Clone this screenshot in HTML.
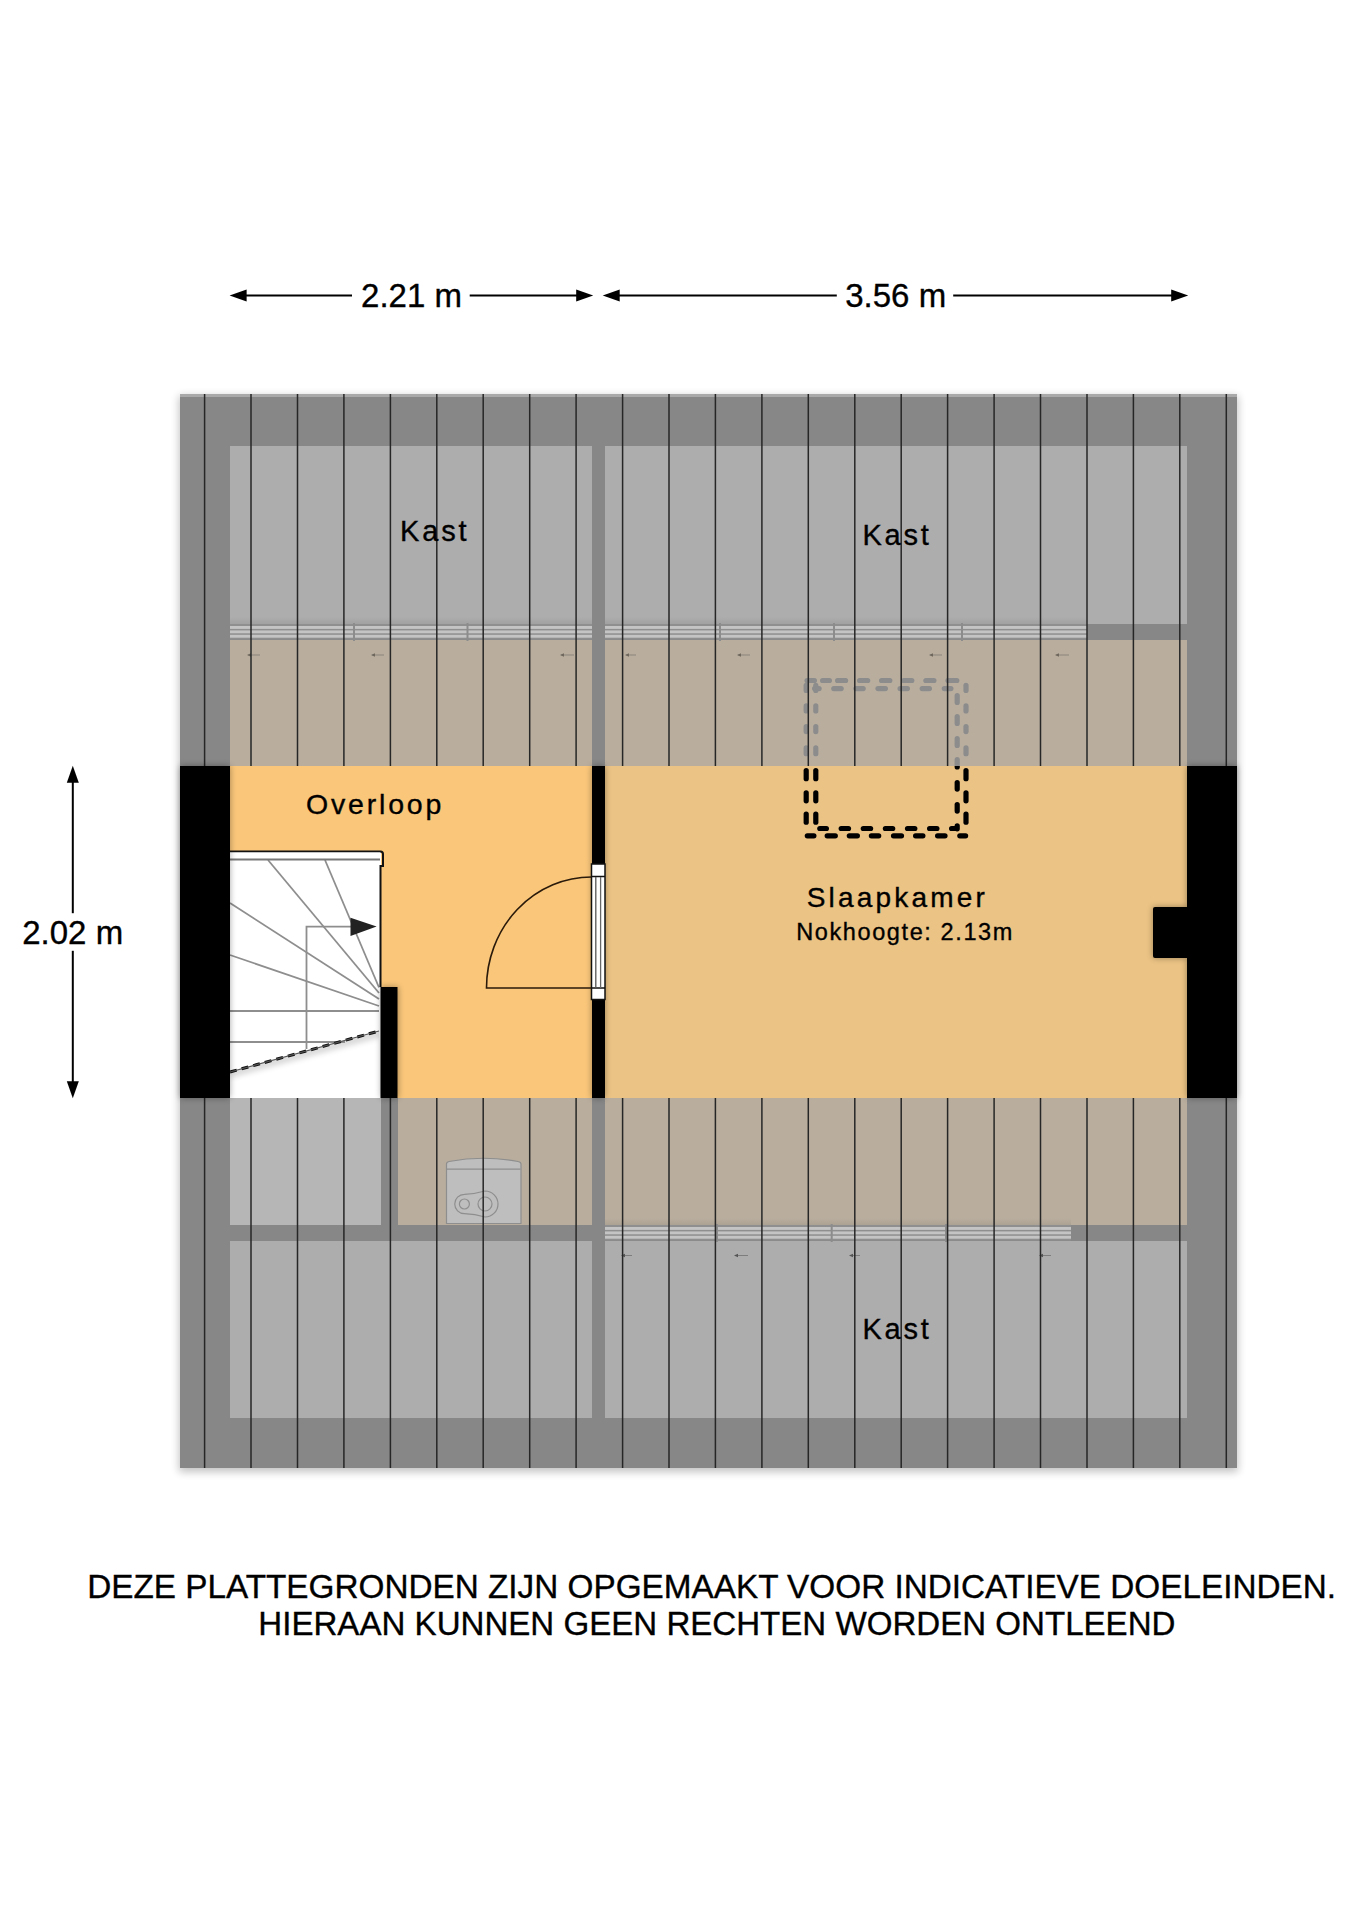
<!DOCTYPE html>
<html><head><meta charset="utf-8"><title>Plattegrond</title><style>
html,body{margin:0;padding:0;background:#fff;width:1358px;height:1920px;overflow:hidden}
svg{display:block;position:absolute;left:0;top:0}
text{font-family:"Liberation Sans",sans-serif;fill:#000;stroke:#000;stroke-width:0.35px}
</style></head><body>
<svg width="1358" height="1920" viewBox="0 0 1358 1920">
<defs>
<filter id="sh" x="-20%" y="-20%" width="140%" height="140%"><feGaussianBlur stdDeviation="4"/></filter>
<filter id="ws" x="-50%" y="-50%" width="200%" height="200%"><feGaussianBlur stdDeviation="3"/></filter>
<filter id="bl" x="-50%" y="-50%" width="200%" height="200%"><feGaussianBlur stdDeviation="0.6"/></filter>
<clipPath id="abv"><rect x="0" y="0" width="1358" height="766"/></clipPath>
<clipPath id="stclip"><polygon points="230,1072 379,1031 381,1098 230,1098"/></clipPath>
<clipPath id="blw"><rect x="0" y="766" width="1358" height="400"/></clipPath>
<linearGradient id="rsh" x1="0" y1="0" x2="0" y2="1"><stop offset="0" stop-color="#000" stop-opacity="0"/><stop offset="1" stop-color="#000" stop-opacity="0.07"/></linearGradient>
<linearGradient id="stsh" x1="0" y1="0" x2="0" y2="1"><stop offset="0" stop-color="#cfcfcf"/><stop offset="0.5" stop-color="#f4f4f4"/><stop offset="1" stop-color="#fff"/></linearGradient>
</defs>

<polygon points="229.6,295.5 246.6,289.5 246.6,301.5" fill="#000"/>
<line x1="245.6" y1="295.5" x2="352" y2="295.5" stroke="#000" stroke-width="2"/>
<line x1="469.7" y1="295.5" x2="577.2" y2="295.5" stroke="#000" stroke-width="2"/>
<polygon points="593.2,295.5 576.2,289.5 576.2,301.5" fill="#000"/>
<polygon points="602.7,295.5 619.7,289.5 619.7,301.5" fill="#000"/>
<line x1="618.7" y1="295.5" x2="836.8" y2="295.5" stroke="#000" stroke-width="2"/>
<line x1="953.2" y1="295.5" x2="1172.2" y2="295.5" stroke="#000" stroke-width="2"/>
<polygon points="1188.2,295.5 1171.2,289.5 1171.2,301.5" fill="#000"/>
<polygon points="72.8,765.7 66.8,782.7 78.8,782.7" fill="#000"/>
<line x1="72.8" y1="781" x2="72.8" y2="913.2" stroke="#000" stroke-width="2"/>
<line x1="72.8" y1="950.8" x2="72.8" y2="1083" stroke="#000" stroke-width="2"/>
<polygon points="72.8,1098.2 66.8,1081.2 78.8,1081.2" fill="#000"/>
<text x="411.5" y="307.3" font-size="33" text-anchor="middle">2.21 m</text>
<text x="895.7" y="307.4" font-size="33" text-anchor="middle">3.56 m</text>
<text x="72.7" y="943.8" font-size="33" text-anchor="middle">2.02 m</text>
<rect x="179" y="396" width="1059" height="1076" fill="#000" opacity="0.24" filter="url(#sh)"/>
<rect x="180" y="394" width="1057" height="1074" fill="#878787"/>
<rect x="180" y="394" width="1057" height="3" fill="#a9a9a9"/>
<rect x="230" y="446" width="362" height="178" fill="#adadad"/>
<rect x="605" y="446" width="582" height="178" fill="#adadad"/>
<rect x="230" y="1241" width="362" height="177" fill="#adadad"/>
<rect x="605" y="1241" width="582" height="177" fill="#adadad"/>
<rect x="230" y="640" width="362" height="126" fill="#b9ae9e"/>
<rect x="605" y="640" width="582" height="126" fill="#b9ae9e"/>
<rect x="398" y="1098" width="194" height="127" fill="#b9ae9e"/>
<rect x="605" y="1098" width="582" height="127" fill="#b9ae9e"/>
<rect x="230" y="1098" width="151" height="127" fill="#b6b6b6"/>
<rect x="230" y="617" width="362" height="7" fill="url(#rsh)"/>
<rect x="230" y="624" width="362" height="15.5" fill="#8f8f8f"/>
<rect x="230" y="626.0" width="362" height="2.9" fill="#c4c4c4"/>
<rect x="230" y="630.4" width="362" height="2.9" fill="#c4c4c4"/>
<rect x="230" y="634.8" width="362" height="2.9" fill="#c4c4c4"/>
<rect x="605" y="617" width="482" height="7" fill="url(#rsh)"/>
<rect x="605" y="624" width="482" height="15.5" fill="#8f8f8f"/>
<rect x="605" y="626.0" width="482" height="2.9" fill="#c4c4c4"/>
<rect x="605" y="630.4" width="482" height="2.9" fill="#c4c4c4"/>
<rect x="605" y="634.8" width="482" height="2.9" fill="#c4c4c4"/>
<rect x="605" y="1218" width="466" height="7" fill="url(#rsh)"/>
<rect x="605" y="1225" width="466" height="15.5" fill="#8f8f8f"/>
<rect x="605" y="1227.0" width="466" height="2.9" fill="#c4c4c4"/>
<rect x="605" y="1231.4" width="466" height="2.9" fill="#c4c4c4"/>
<rect x="605" y="1235.8" width="466" height="2.9" fill="#c4c4c4"/>
<rect x="353" y="623" width="2" height="18" fill="#8c8c8c"/>
<rect x="466.5" y="623" width="2" height="18" fill="#8c8c8c"/>
<rect x="719" y="623" width="2" height="18" fill="#8c8c8c"/>
<rect x="833" y="623" width="2" height="18" fill="#8c8c8c"/>
<rect x="961" y="623" width="2" height="18" fill="#8c8c8c"/>
<rect x="716" y="1224" width="2" height="18" fill="#8c8c8c"/>
<rect x="830.7" y="1224" width="2" height="18" fill="#8c8c8c"/>
<rect x="945" y="1224" width="2" height="18" fill="#8c8c8c"/>
<line x1="248" y1="655" x2="260" y2="655" stroke="#8a8378" stroke-width="1"/><polygon points="247,655 251,653.3 251,656.7" fill="#6f685e"/>
<line x1="372" y1="655" x2="384" y2="655" stroke="#8a8378" stroke-width="1"/><polygon points="371,655 375,653.3 375,656.7" fill="#6f685e"/>
<line x1="561" y1="655" x2="574" y2="655" stroke="#8a8378" stroke-width="1"/><polygon points="560,655 564,653.3 564,656.7" fill="#6f685e"/>
<line x1="626" y1="655" x2="636" y2="655" stroke="#8a8378" stroke-width="1"/><polygon points="625,655 629,653.3 629,656.7" fill="#6f685e"/>
<line x1="738" y1="655" x2="750" y2="655" stroke="#8a8378" stroke-width="1"/><polygon points="737,655 741,653.3 741,656.7" fill="#6f685e"/>
<line x1="930" y1="655" x2="942" y2="655" stroke="#8a8378" stroke-width="1"/><polygon points="929,655 933,653.3 933,656.7" fill="#6f685e"/>
<line x1="1056" y1="655" x2="1069" y2="655" stroke="#8a8378" stroke-width="1"/><polygon points="1055,655 1059,653.3 1059,656.7" fill="#6f685e"/>
<line x1="622" y1="1255.5" x2="632" y2="1255.5" stroke="#7d7d7d" stroke-width="1"/><polygon points="621,1255.5 625,1253.8 625,1257.2" fill="#555"/>
<line x1="735" y1="1255.5" x2="748" y2="1255.5" stroke="#7d7d7d" stroke-width="1"/><polygon points="734,1255.5 738,1253.8 738,1257.2" fill="#555"/>
<line x1="850" y1="1255.5" x2="860" y2="1255.5" stroke="#7d7d7d" stroke-width="1"/><polygon points="849,1255.5 853,1253.8 853,1257.2" fill="#555"/>
<line x1="1040" y1="1255.5" x2="1051" y2="1255.5" stroke="#7d7d7d" stroke-width="1"/><polygon points="1039,1255.5 1043,1253.8 1043,1257.2" fill="#555"/>
<g clip-path="url(#abv)" stroke="#8c8c8c" stroke-width="5.2" stroke-linecap="round" fill="none" filter="url(#bl)"><line x1="807.3" y1="835.8" x2="813.9" y2="835.8"/><line x1="827.2" y1="835.8" x2="835.3" y2="835.8"/><line x1="849.3" y1="835.8" x2="857.4" y2="835.8"/><line x1="871.4" y1="835.8" x2="878.7" y2="835.8"/><line x1="893.5" y1="835.8" x2="901.5" y2="835.8"/><line x1="915.6" y1="835.8" x2="922.9" y2="835.8"/><line x1="937.6" y1="835.8" x2="945.0" y2="835.8"/><line x1="959.8" y1="835.8" x2="965.6" y2="835.8"/><line x1="819.8" y1="828.5" x2="826.4" y2="828.5"/><line x1="841.2" y1="828.5" x2="848.5" y2="828.5"/><line x1="863.3" y1="828.5" x2="870.6" y2="828.5"/><line x1="885.4" y1="828.5" x2="892.7" y2="828.5"/><line x1="907.5" y1="828.5" x2="914.8" y2="828.5"/><line x1="929.6" y1="828.5" x2="936.9" y2="828.5"/><line x1="951.6" y1="828.5" x2="955.3" y2="828.5"/><line x1="807.1" y1="680.5" x2="814.4" y2="680.5"/><line x1="822.6" y1="680.5" x2="829.4" y2="680.5"/><line x1="837.6" y1="680.5" x2="845.6" y2="680.5"/><line x1="859.6" y1="680.5" x2="867.7" y2="680.5"/><line x1="881.6" y1="680.5" x2="889.8" y2="680.5"/><line x1="903.8" y1="680.5" x2="911.8" y2="680.5"/><line x1="925.9" y1="680.5" x2="933.9" y2="680.5"/><line x1="948.0" y1="680.5" x2="956.8" y2="680.5"/><line x1="814.6" y1="688.6" x2="819.1" y2="688.6"/><line x1="833.8" y1="688.6" x2="841.2" y2="688.6"/><line x1="855.9" y1="688.6" x2="863.2" y2="688.6"/><line x1="878.0" y1="688.6" x2="885.4" y2="688.6"/><line x1="900.1" y1="688.6" x2="907.4" y2="688.6"/><line x1="922.2" y1="688.6" x2="929.4" y2="688.6"/><line x1="944.3" y1="688.6" x2="950.9" y2="688.6"/><line x1="806.2" y1="685.3" x2="806.2" y2="690.4"/><line x1="806.2" y1="705.9" x2="806.2" y2="711.0"/><line x1="806.2" y1="726.5" x2="806.2" y2="731.6"/><line x1="806.2" y1="747.9" x2="806.2" y2="753.7"/><line x1="806.2" y1="770.6" x2="806.2" y2="778.7"/><line x1="806.2" y1="792.8" x2="806.2" y2="800.8"/><line x1="806.2" y1="814.1" x2="806.2" y2="822.2"/><line x1="815.8" y1="685.3" x2="815.8" y2="690.4"/><line x1="815.8" y1="705.9" x2="815.8" y2="711.0"/><line x1="815.8" y1="726.5" x2="815.8" y2="731.6"/><line x1="815.8" y1="747.9" x2="815.8" y2="753.7"/><line x1="815.8" y1="770.6" x2="815.8" y2="778.7"/><line x1="815.8" y1="792.8" x2="815.8" y2="800.8"/><line x1="815.8" y1="814.1" x2="815.8" y2="822.2"/><line x1="966.0" y1="685.3" x2="966.0" y2="690.4"/><line x1="966.0" y1="705.9" x2="966.0" y2="711.0"/><line x1="966.0" y1="726.5" x2="966.0" y2="731.6"/><line x1="966.0" y1="747.9" x2="966.0" y2="753.7"/><line x1="966.0" y1="770.6" x2="966.0" y2="778.7"/><line x1="966.0" y1="792.8" x2="966.0" y2="800.8"/><line x1="966.0" y1="814.1" x2="966.0" y2="822.2"/><line x1="957.2" y1="695.6" x2="957.2" y2="702.4"/><line x1="957.2" y1="716.6" x2="957.2" y2="723.4"/><line x1="957.2" y1="738.6" x2="957.2" y2="745.4"/><line x1="957.2" y1="759.6" x2="957.2" y2="767.0"/><line x1="957.2" y1="782.5" x2="957.2" y2="789.1"/><line x1="957.2" y1="804.6" x2="957.2" y2="811.1"/><line x1="957.2" y1="825.9" x2="957.2" y2="828.8"/></g>
<g stroke="#8e8e8e" stroke-width="1.2" fill="none">
<path d="M446.5,1223.5 V1164 Q446.5,1162 449,1161.5 Q483,1155 518,1161.5 Q521,1162 521,1164 V1223.5 Z" fill="#bebebe"/>
<line x1="447" y1="1169.2" x2="520.5" y2="1169.2"/>
<circle cx="464.4" cy="1204" r="5"/><circle cx="485" cy="1204" r="7"/>
<path d="M485,1191 A13,13 0 1 1 485,1217 Q475,1214 464.4,1213.7 A9.7,9.7 0 0 1 464.4,1194.3 Q475,1194 485,1191 Z"/>
</g>
<line x1="204.6" y1="394" x2="204.6" y2="766" stroke="#262626" stroke-width="1.5"/>
<line x1="204.6" y1="1098" x2="204.6" y2="1468" stroke="#262626" stroke-width="1.5"/>
<line x1="251.0" y1="394" x2="251.0" y2="766" stroke="#262626" stroke-width="1.5"/>
<line x1="251.0" y1="1098" x2="251.0" y2="1468" stroke="#262626" stroke-width="1.5"/>
<line x1="297.5" y1="394" x2="297.5" y2="766" stroke="#262626" stroke-width="1.5"/>
<line x1="297.5" y1="1098" x2="297.5" y2="1468" stroke="#262626" stroke-width="1.5"/>
<line x1="343.9" y1="394" x2="343.9" y2="766" stroke="#262626" stroke-width="1.5"/>
<line x1="343.9" y1="1098" x2="343.9" y2="1468" stroke="#262626" stroke-width="1.5"/>
<line x1="390.4" y1="394" x2="390.4" y2="766" stroke="#262626" stroke-width="1.5"/>
<line x1="390.4" y1="1098" x2="390.4" y2="1468" stroke="#262626" stroke-width="1.5"/>
<line x1="436.8" y1="394" x2="436.8" y2="766" stroke="#262626" stroke-width="1.5"/>
<line x1="436.8" y1="1098" x2="436.8" y2="1468" stroke="#262626" stroke-width="1.5"/>
<line x1="483.2" y1="394" x2="483.2" y2="766" stroke="#262626" stroke-width="1.5"/>
<line x1="483.2" y1="1098" x2="483.2" y2="1468" stroke="#262626" stroke-width="1.5"/>
<line x1="529.7" y1="394" x2="529.7" y2="766" stroke="#262626" stroke-width="1.5"/>
<line x1="529.7" y1="1098" x2="529.7" y2="1468" stroke="#262626" stroke-width="1.5"/>
<line x1="576.1" y1="394" x2="576.1" y2="766" stroke="#262626" stroke-width="1.5"/>
<line x1="576.1" y1="1098" x2="576.1" y2="1468" stroke="#262626" stroke-width="1.5"/>
<line x1="622.6" y1="394" x2="622.6" y2="766" stroke="#262626" stroke-width="1.5"/>
<line x1="622.6" y1="1098" x2="622.6" y2="1468" stroke="#262626" stroke-width="1.5"/>
<line x1="669.0" y1="394" x2="669.0" y2="766" stroke="#262626" stroke-width="1.5"/>
<line x1="669.0" y1="1098" x2="669.0" y2="1468" stroke="#262626" stroke-width="1.5"/>
<line x1="715.4" y1="394" x2="715.4" y2="766" stroke="#262626" stroke-width="1.5"/>
<line x1="715.4" y1="1098" x2="715.4" y2="1468" stroke="#262626" stroke-width="1.5"/>
<line x1="761.9" y1="394" x2="761.9" y2="766" stroke="#262626" stroke-width="1.5"/>
<line x1="761.9" y1="1098" x2="761.9" y2="1468" stroke="#262626" stroke-width="1.5"/>
<line x1="808.3" y1="394" x2="808.3" y2="766" stroke="#262626" stroke-width="1.5"/>
<line x1="808.3" y1="1098" x2="808.3" y2="1468" stroke="#262626" stroke-width="1.5"/>
<line x1="854.8" y1="394" x2="854.8" y2="766" stroke="#262626" stroke-width="1.5"/>
<line x1="854.8" y1="1098" x2="854.8" y2="1468" stroke="#262626" stroke-width="1.5"/>
<line x1="901.2" y1="394" x2="901.2" y2="766" stroke="#262626" stroke-width="1.5"/>
<line x1="901.2" y1="1098" x2="901.2" y2="1468" stroke="#262626" stroke-width="1.5"/>
<line x1="947.6" y1="394" x2="947.6" y2="766" stroke="#262626" stroke-width="1.5"/>
<line x1="947.6" y1="1098" x2="947.6" y2="1468" stroke="#262626" stroke-width="1.5"/>
<line x1="994.1" y1="394" x2="994.1" y2="766" stroke="#262626" stroke-width="1.5"/>
<line x1="994.1" y1="1098" x2="994.1" y2="1468" stroke="#262626" stroke-width="1.5"/>
<line x1="1040.5" y1="394" x2="1040.5" y2="766" stroke="#262626" stroke-width="1.5"/>
<line x1="1040.5" y1="1098" x2="1040.5" y2="1468" stroke="#262626" stroke-width="1.5"/>
<line x1="1087.0" y1="394" x2="1087.0" y2="766" stroke="#262626" stroke-width="1.5"/>
<line x1="1087.0" y1="1098" x2="1087.0" y2="1468" stroke="#262626" stroke-width="1.5"/>
<line x1="1133.4" y1="394" x2="1133.4" y2="766" stroke="#262626" stroke-width="1.5"/>
<line x1="1133.4" y1="1098" x2="1133.4" y2="1468" stroke="#262626" stroke-width="1.5"/>
<line x1="1179.8" y1="394" x2="1179.8" y2="766" stroke="#262626" stroke-width="1.5"/>
<line x1="1179.8" y1="1098" x2="1179.8" y2="1468" stroke="#262626" stroke-width="1.5"/>
<line x1="1226.3" y1="394" x2="1226.3" y2="766" stroke="#262626" stroke-width="1.5"/>
<line x1="1226.3" y1="1098" x2="1226.3" y2="1468" stroke="#262626" stroke-width="1.5"/>
<rect x="230" y="766" width="362" height="332" fill="#f9c67a"/>
<rect x="605" y="766" width="582" height="332" fill="#ebc385"/>
<rect x="230" y="852" width="151" height="246" fill="#fff"/>
<g clip-path="url(#stclip)"><line x1="230" y1="1074" x2="381" y2="1033" stroke="#000" stroke-width="6" opacity="0.2" filter="url(#ws)"/></g>
<g stroke="#8e8e8e" stroke-width="1.8" fill="none">
<line x1="268" y1="860" x2="379" y2="993"/>
<line x1="230" y1="903" x2="379" y2="999"/>
<line x1="230" y1="955" x2="379" y2="1006"/>
<line x1="325" y1="860" x2="379" y2="987.5"/>
<line x1="230" y1="1011" x2="379" y2="1011"/>
<line x1="230" y1="1042" x2="345" y2="1042"/>
<polyline points="306.5,1049 306.5,926.6 352,926.6"/>
</g>
<polygon points="350.5,917.7 376.6,926.6 350.5,935.9" fill="#222"/>
<line x1="230" y1="1072" x2="379" y2="1031" stroke="#111" stroke-width="3" stroke-dasharray="7 5"/>
<line x1="230" y1="1072" x2="379" y2="1031" stroke="#555" stroke-width="1.2"/>
<path d="M230,851.5 H380.5 Q383,851.5 383,854 V866 L380.5,866 V987" stroke="#111" stroke-width="2" fill="none"/>
<rect x="230" y="852.5" width="150" height="6" fill="#fff"/>
<line x1="230" y1="859.5" x2="380" y2="859.5" stroke="#777" stroke-width="2"/>
<g filter="url(#ws)" fill="#000" opacity="0.35">
<rect x="180" y="766" width="50" height="332"/><rect x="592" y="766" width="13" height="332"/><rect x="1187" y="766" width="50" height="332"/><rect x="1153" y="907" width="40" height="51"/><rect x="381" y="987" width="17" height="111"/>
</g>
<rect x="180" y="766" width="50" height="332" fill="#000"/>
<rect x="1187" y="766" width="50" height="332" fill="#000"/>
<rect x="1153" y="907" width="40" height="51" rx="2" fill="#000"/>
<rect x="592" y="766" width="13" height="332" fill="#000"/>
<rect x="380.5" y="987" width="17" height="111" fill="#000"/>
<rect x="591.5" y="864" width="13.5" height="135.5" fill="#fff" stroke="#111" stroke-width="1.5"/>
<line x1="591.5" y1="876.5" x2="605" y2="876.5" stroke="#111" stroke-width="1.5"/>
<line x1="591.5" y1="988" x2="605" y2="988" stroke="#111" stroke-width="1.5"/>
<line x1="595.8" y1="877" x2="595.8" y2="988" stroke="#555" stroke-width="1.3"/>
<line x1="600.6" y1="877" x2="600.6" y2="988" stroke="#666" stroke-width="1.3"/>
<path d="M591.5,877 A105,111 0 0 0 486.5,988 H591.5" stroke="#2a1a0a" stroke-width="1.6" fill="none"/>
<g clip-path="url(#blw)" stroke="#000" stroke-width="5.2" stroke-linecap="round" fill="none" filter="url(#bl)"><line x1="807.3" y1="835.8" x2="813.9" y2="835.8"/><line x1="827.2" y1="835.8" x2="835.3" y2="835.8"/><line x1="849.3" y1="835.8" x2="857.4" y2="835.8"/><line x1="871.4" y1="835.8" x2="878.7" y2="835.8"/><line x1="893.5" y1="835.8" x2="901.5" y2="835.8"/><line x1="915.6" y1="835.8" x2="922.9" y2="835.8"/><line x1="937.6" y1="835.8" x2="945.0" y2="835.8"/><line x1="959.8" y1="835.8" x2="965.6" y2="835.8"/><line x1="819.8" y1="828.5" x2="826.4" y2="828.5"/><line x1="841.2" y1="828.5" x2="848.5" y2="828.5"/><line x1="863.3" y1="828.5" x2="870.6" y2="828.5"/><line x1="885.4" y1="828.5" x2="892.7" y2="828.5"/><line x1="907.5" y1="828.5" x2="914.8" y2="828.5"/><line x1="929.6" y1="828.5" x2="936.9" y2="828.5"/><line x1="951.6" y1="828.5" x2="955.3" y2="828.5"/><line x1="807.1" y1="680.5" x2="814.4" y2="680.5"/><line x1="822.6" y1="680.5" x2="829.4" y2="680.5"/><line x1="837.6" y1="680.5" x2="845.6" y2="680.5"/><line x1="859.6" y1="680.5" x2="867.7" y2="680.5"/><line x1="881.6" y1="680.5" x2="889.8" y2="680.5"/><line x1="903.8" y1="680.5" x2="911.8" y2="680.5"/><line x1="925.9" y1="680.5" x2="933.9" y2="680.5"/><line x1="948.0" y1="680.5" x2="956.8" y2="680.5"/><line x1="814.6" y1="688.6" x2="819.1" y2="688.6"/><line x1="833.8" y1="688.6" x2="841.2" y2="688.6"/><line x1="855.9" y1="688.6" x2="863.2" y2="688.6"/><line x1="878.0" y1="688.6" x2="885.4" y2="688.6"/><line x1="900.1" y1="688.6" x2="907.4" y2="688.6"/><line x1="922.2" y1="688.6" x2="929.4" y2="688.6"/><line x1="944.3" y1="688.6" x2="950.9" y2="688.6"/><line x1="806.2" y1="685.3" x2="806.2" y2="690.4"/><line x1="806.2" y1="705.9" x2="806.2" y2="711.0"/><line x1="806.2" y1="726.5" x2="806.2" y2="731.6"/><line x1="806.2" y1="747.9" x2="806.2" y2="753.7"/><line x1="806.2" y1="770.6" x2="806.2" y2="778.7"/><line x1="806.2" y1="792.8" x2="806.2" y2="800.8"/><line x1="806.2" y1="814.1" x2="806.2" y2="822.2"/><line x1="815.8" y1="685.3" x2="815.8" y2="690.4"/><line x1="815.8" y1="705.9" x2="815.8" y2="711.0"/><line x1="815.8" y1="726.5" x2="815.8" y2="731.6"/><line x1="815.8" y1="747.9" x2="815.8" y2="753.7"/><line x1="815.8" y1="770.6" x2="815.8" y2="778.7"/><line x1="815.8" y1="792.8" x2="815.8" y2="800.8"/><line x1="815.8" y1="814.1" x2="815.8" y2="822.2"/><line x1="966.0" y1="685.3" x2="966.0" y2="690.4"/><line x1="966.0" y1="705.9" x2="966.0" y2="711.0"/><line x1="966.0" y1="726.5" x2="966.0" y2="731.6"/><line x1="966.0" y1="747.9" x2="966.0" y2="753.7"/><line x1="966.0" y1="770.6" x2="966.0" y2="778.7"/><line x1="966.0" y1="792.8" x2="966.0" y2="800.8"/><line x1="966.0" y1="814.1" x2="966.0" y2="822.2"/><line x1="957.2" y1="695.6" x2="957.2" y2="702.4"/><line x1="957.2" y1="716.6" x2="957.2" y2="723.4"/><line x1="957.2" y1="738.6" x2="957.2" y2="745.4"/><line x1="957.2" y1="759.6" x2="957.2" y2="767.0"/><line x1="957.2" y1="782.5" x2="957.2" y2="789.1"/><line x1="957.2" y1="804.6" x2="957.2" y2="811.1"/><line x1="957.2" y1="825.9" x2="957.2" y2="828.8"/></g>
<text x="434.7" y="540.5" font-size="29" letter-spacing="2.8" text-anchor="middle">Kast</text>
<text x="897" y="545.1" font-size="29" letter-spacing="2.8" text-anchor="middle">Kast</text>
<text x="897" y="1338.7" font-size="29" letter-spacing="2.8" text-anchor="middle">Kast</text>
<text x="375.1" y="814.2" font-size="28.5" letter-spacing="2.8" text-anchor="middle">Overloop</text>
<text x="897.4" y="907.2" font-size="28" letter-spacing="3.2" text-anchor="middle">Slaapkamer</text>
<text x="905.1" y="940.4" font-size="23.5" letter-spacing="1.6" text-anchor="middle">Nokhoogte: 2.13m</text>
<text x="711.6" y="1597.7" font-size="33.3" text-anchor="middle">DEZE PLATTEGRONDEN ZIJN OPGEMAAKT VOOR INDICATIEVE DOELEINDEN.</text>
<text x="716.9" y="1634.9" font-size="33.1" text-anchor="middle">HIERAAN KUNNEN GEEN RECHTEN WORDEN ONTLEEND</text>
</svg>
</body></html>
